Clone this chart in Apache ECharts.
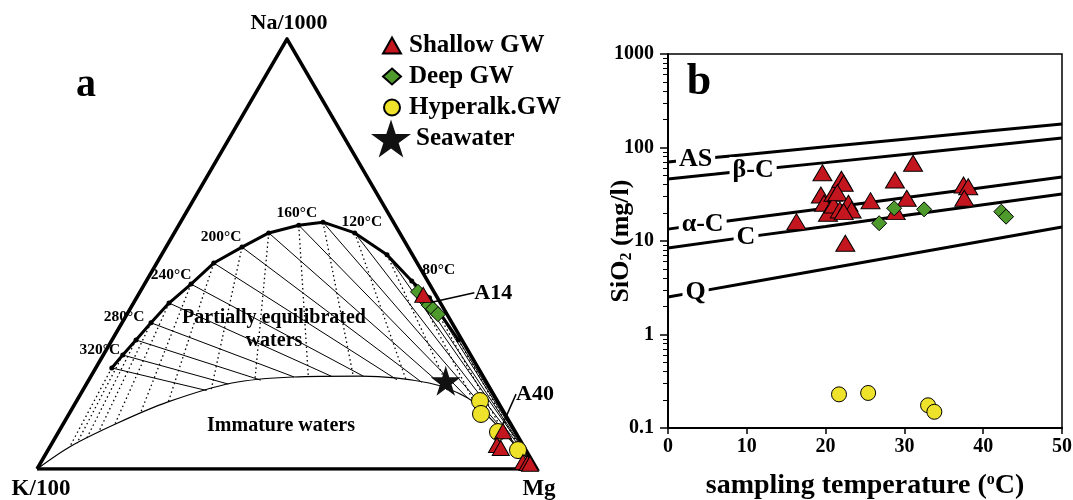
<!DOCTYPE html>
<html>
<head>
<meta charset="utf-8">
<title>Giggenbach diagram and silica solubility</title>
<script src="https://cdn.jsdelivr.net/npm/echarts@6.0.0/dist/echarts.min.js"></script>
<style>
html, body { margin: 0; padding: 0; background: #fff; }
#chart { width: 1073px; height: 500px; }
</style>
</head>
<body>
<div id="chart"></div>
<script>
// ---------- Panel a: Na/1000 – K/100 – Mg ternary, compositions as [Na/1000, K/100, Mg] % ----------
const eqTemps = [340, 320, 300, 280, 260, 240, 220, 200, 180, 160, 140, 120, 100, 80, 60, 40];
const eqComp = [
  [23.5, 73.3, 3.2], [26.5, 69.6, 3.9], [30.0, 65.2, 4.8], [34.0, 60.2, 5.8],
  [38.6, 54.3, 7.1], [43.0, 47.7, 9.3], [47.9, 40.7, 11.4], [51.6, 33.2, 15.2],
  [54.9, 26.2, 18.9], [56.7, 19.3, 24.0], [57.4, 14.1, 28.5], [54.9, 9.0, 36.1],
  [49.8, 5.1, 45.1], [43.7, 3.2, 53.1], [39.8, 1.6, 58.6], [30.0, 0.7, 69.3]
];
const eqLabelTemps = [320, 280, 240, 200, 160, 120, 80];
const immatureComp = [
  [0, 100, 0], [5.3, 90.6, 4.1], [10.7, 78.5, 10.8], [15.6, 66.0, 18.4], [20.0, 51.0, 29.0],
  [21.4, 38.1, 40.5], [21.6, 24.4, 54.0], [20.0, 11.6, 68.4], [16.5, 5.6, 77.9],
  [11.9, 3.5, 84.6], [5.6, 1.6, 92.8], [0, 0, 100]
];
const shallowComp = [[40.5, 2.5, 57.0], [8.8, 2.4, 88.8], [5.6, 5.2, 89.2], [4.9, 4.8, 90.3], [1.6, 2.0, 96.4], [1.4, 1.2, 97.4], [1.2, 0.8, 98.0]];
const shallowNames = ['A14', 'A40', '', '', '', '', ''];
const deepComp = [[41.2, 3.2, 55.6], [39.5, 2.9, 57.6], [38.1, 2.6, 59.3], [37.2, 2.2, 60.6], [36.0, 1.8, 62.2]];
const hyperComp = [[15.8, 3.5, 80.7], [12.8, 4.8, 82.4], [8.6, 3.5, 87.9], [4.4, 1.6, 94.0]];
const seawaterComp = [[20.5, 8.0, 71.5]];

// ---------- Panel b: SiO2 vs sampling temperature ----------
const shallowTemp = [16.3, 19.6, 19.4, 19.8, 20.3, 21.0, 21.0, 21.8, 22.0, 22.3, 21.5, 22.9, 23.3, 22.3, 22.5, 25.7, 28.8, 28.9, 30.3, 31.1, 37.5, 38.1, 37.6];
const shallowSiO2 = [16.1, 53.8, 31.0, 25.3, 19.8, 32.4, 24.3, 21.5, 45.7, 41.4, 32.9, 25.3, 21.5, 20.6, 9.45, 27.0, 44.9, 20.6, 28.6, 67.8, 39.7, 38.0, 28.6];
const deepTemp = [26.8, 28.7, 32.5, 42.3, 42.9];
const deepSiO2 = [15.5, 22.4, 21.8, 20.6, 18.2];
const hyperTemp = [21.7, 25.4, 33.0, 33.8];
const hyperSiO2 = [0.229, 0.237, 0.175, 0.149];

// solubility curves of silica phases
const curveTemps = [0, 10, 20, 30, 40, 50];
const curveNames = ['AS', 'β-C', 'α-C', 'C', 'Q'];
const asSiO2 = [70.0, 84.4, 101.7, 122.7, 147.9, 178.3];
const betaSiO2 = [46.0, 56.4, 68.9, 84.3, 103.2, 126.4];
const alphaSiO2 = [13.4, 17.4, 22.4, 29.0, 37.4, 48.3];
const chalSiO2 = [8.42, 11.0, 14.3, 18.7, 24.4, 31.8];
const quartzSiO2 = [2.52, 3.56, 5.02, 7.08, 10.0, 14.1];
const curveLabelTemp = [3.5, 10.8, 4.4, 9.9, 3.5];
const curveLabelSiO2 = [74.8, 57.3, 15.1, 11.0, 2.84];

const SERIF = '"Liberation Serif", "Times New Roman", serif';
const RED = '#c4161f', GREEN = '#4e9a2c', YELLOW = '#efe22a';
const STAR = 'path://M50,2 L61.2,36.5 L97.6,36.5 L68.2,57.9 L79.4,92.4 L50,71.1 L20.6,92.4 L31.8,57.9 L2.4,36.5 L38.8,36.5 Z';

// ternary composition -> cartesian (K at origin, Mg at (100,0), Na at apex)
function toXY(c) {
  const s = c[0] + c[1] + c[2];
  const n = c[0] / s * 100, m = c[2] / s * 100;
  return [m + n / 2, n * Math.sqrt(3) / 2];
}
const NA_APEX = toXY([100, 0, 0]);
const MG_CORNER = toXY([0, 0, 100]);
const immatureXY = immatureComp.map(toXY);

// first crossing of a ray with a polyline
function hitCurve(p, d, curve) {
  let best = null, bt = Infinity;
  for (let i = 0; i < curve.length - 1; i++) {
    const a = curve[i], b = curve[i + 1];
    const ex = b[0] - a[0], ey = b[1] - a[1];
    const den = d[0] * ey - d[1] * ex;
    if (Math.abs(den) < 1e-12) continue;
    const wx = a[0] - p[0], wy = a[1] - p[1];
    const t = (wx * ey - wy * ex) / den;
    const s = (wx * d[1] - wy * d[0]) / den;
    if (t > 1e-6 && s >= -1e-9 && s <= 1 + 1e-9 && t < bt) { bt = t; best = [p[0] + t * d[0], p[1] + t * d[1]]; }
  }
  return best;
}

// Na/K isotherms run towards the Mg corner, K/Mg isotherms radiate from the Na apex;
// both end on the immature-water boundary
const naKLines = [], kMgLines = [];
eqComp.forEach(c => {
  const e = toXY(c);
  const h1 = hitCurve(e, [MG_CORNER[0] - e[0], MG_CORNER[1] - e[1]], immatureXY);
  if (h1) naKLines.push({ coords: [e, h1] });
  const h2 = hitCurve(e, [e[0] - NA_APEX[0], e[1] - NA_APEX[1]], immatureXY);
  if (h2) kMgLines.push({ coords: [e, h2] });
});

// placement of the temperature labels around their ticks (px offsets)
const eqLabelOffset = {
  320: [-23, -5], 280: [-27, -6], 240: [-20, -9], 200: [-21, -10],
  160: [-2, -12], 120: [7, -11], 80: [27, -11]
};
const eqData = eqComp.map((c, i) => {
  const t = eqTemps[i];
  const item = { value: toXY(c) };
  if (eqLabelTemps.includes(t)) {
    item.label = {
      show: true, formatter: t + '°C', position: 'inside', offset: eqLabelOffset[t],
      color: '#000', fontFamily: SERIF, fontWeight: 'bold', fontSize: 15.5
    };
  }
  return item;
});

const shallowData = shallowComp.map((c, i) => {
  const item = { value: toXY(c), name: shallowNames[i] };
  if (shallowNames[i]) {
    item.label = { show: true, formatter: shallowNames[i], position: 'inside', color: '#000', opacity: 1, fontFamily: SERIF, fontWeight: 'bold', fontSize: 22 };
  }
  return item;
});
const shallowLabelShift = { 0: { dx: 70, dy: -2 }, 1: { dx: 32, dy: -37 } };

function curveSeries(k, vals) {
  const data = curveTemps.map((t, i) => ({ value: [t, vals[i]] }));
  const labelItem = {
    value: [curveLabelTemp[k], curveLabelSiO2[k]],
    symbol: 'circle', symbolSize: 1,
    itemStyle: { color: '#fff', borderWidth: 0 },
    label: {
      show: true, formatter: curveNames[k], position: 'inside',
      color: '#000', fontFamily: SERIF, fontWeight: 'bold', fontSize: 26,
      backgroundColor: '#fff', padding: [0, 3, 0, 3], lineHeight: 26
    }
  };
  const at = data.findIndex(d => d.value[0] > curveLabelTemp[k]);
  data.splice(at, 0, labelItem);
  return {
    type: 'line', name: 'curve-' + k, xAxisIndex: 1, yAxisIndex: 1, symbol: 'none',
    data, lineStyle: { color: '#000', width: 3 }, silent: true, z: 2
  };
}

const minorLogTicks = [];
[0.1, 1, 10, 100].forEach(d => { for (let j = 2; j <= 9; j++) minorLogTicks.push(+(d * j).toPrecision(3)); });

const markerBorder = { borderColor: '#000', borderWidth: 1, opacity: 1 };
const boldText = { color: '#000', fontFamily: SERIF, fontWeight: 'bold' };
const legendText = { ...boldText, fontSize: 25, padding: [0, 0, 0, 3] };

const option = {
  animation: false,
  backgroundColor: '#fff',
  textStyle: { fontFamily: SERIF },
  grid: [
    { left: 37, top: 39, width: 500, height: 430, outerBoundsMode: 'none' },
    { left: 668, top: 54, width: 394, height: 374, show: true, borderColor: '#000', borderWidth: 1.5, outerBoundsMode: 'none' }
  ],
  xAxis: [
    { gridIndex: 0, type: 'value', min: 0, max: 100, show: false },
    {
      gridIndex: 1, type: 'value', min: 0, max: 50, interval: 10,
      axisLine: { lineStyle: { color: '#000', width: 2 } },
      axisTick: { length: 6, lineStyle: { color: '#000', width: 1.5 } },
      axisLabel: { ...boldText, fontSize: 20, margin: 9 },
      splitLine: { show: false },
      name: 'sampling temperature ({sup|o}C)', nameLocation: 'middle', nameGap: 44, nameMoveOverlap: false,
      nameTextStyle: { ...boldText, fontSize: 28, rich: { sup: { ...boldText, fontSize: 16, verticalAlign: 'top', padding: [0, 0, 12, 0] } } }
    }
  ],
  yAxis: [
    { gridIndex: 0, type: 'value', min: 0, max: 50 * Math.sqrt(3), show: false },
    {
      gridIndex: 1, type: 'log', logBase: 10, min: 0.1, max: 1000,
      axisLine: { lineStyle: { color: '#000', width: 2 } },
      axisTick: { length: 8, lineStyle: { color: '#000', width: 1.5 } },
      axisLabel: { ...boldText, fontSize: 20, margin: 14, formatter: v => String(v) },
      splitLine: { show: false },
      name: 'SiO{sub|2} (mg/l)', nameLocation: 'middle', nameRotate: 90, nameGap: 33, nameMoveOverlap: false,
      nameTextStyle: { ...boldText, fontSize: 26, rich: { sub: { ...boldText, fontSize: 16, padding: [12, 0, 0, 0] } } }
    },
    {
      gridIndex: 1, type: 'log', logBase: 10, min: 0.1, max: 1000, position: 'left',
      axisLine: { show: false }, axisLabel: { show: false }, splitLine: { show: false },
      axisTick: { show: true, length: 5, customValues: minorLogTicks, lineStyle: { color: '#000', width: 1 } }
    }
  ],
  legend: [
    {
      data: [{ name: 'Shallow GW', icon: 'triangle' }, { name: 'Deep GW', icon: 'diamond' }, { name: 'Hyperalk.GW', icon: 'circle' }],
      orient: 'vertical', left: 377, top: 25, itemWidth: 18, itemHeight: 16, itemGap: 0,
      selectedMode: false, itemStyle: { opacity: 1 }, textStyle: { ...legendText, lineHeight: 31 }
    },
    {
      data: [{ name: 'Seawater', icon: STAR }],
      orient: 'vertical', left: 366, top: 114, itemWidth: 40, itemHeight: 39,
      selectedMode: false, itemStyle: { opacity: 1 }, textStyle: { ...legendText, padding: [0, 0, 0, 0], lineHeight: 39 }
    }
  ],
  graphic: [
    { type: 'text', x: 86, y: 86, silent: true, style: { text: 'a', fill: '#000', font: 'bold 40px ' + SERIF, align: 'center', verticalAlign: 'middle' } },
    { type: 'text', x: 699, y: 83, silent: true, style: { text: 'b', fill: '#000', font: 'bold 44px ' + SERIF, align: 'center', verticalAlign: 'middle' } },
    { type: 'text', x: 289, y: 23, silent: true, style: { text: 'Na/1000', fill: '#000', font: 'bold 22px ' + SERIF, align: 'center', verticalAlign: 'middle' } },
    { type: 'text', x: 41, y: 489, silent: true, style: { text: 'K/100', fill: '#000', font: 'bold 23px ' + SERIF, align: 'center', verticalAlign: 'middle' } },
    { type: 'text', x: 539, y: 489, silent: true, style: { text: 'Mg', fill: '#000', font: 'bold 23px ' + SERIF, align: 'center', verticalAlign: 'middle' } },
    { type: 'text', x: 274, y: 318, silent: true, style: { text: 'Partially equilibrated', fill: '#000', font: 'bold 20px ' + SERIF, align: 'center', verticalAlign: 'middle' } },
    { type: 'text', x: 274, y: 341, silent: true, style: { text: 'waters', fill: '#000', font: 'bold 20px ' + SERIF, align: 'center', verticalAlign: 'middle' } },
    { type: 'text', x: 281, y: 426, silent: true, style: { text: 'Immature waters', fill: '#000', font: 'bold 20px ' + SERIF, align: 'center', verticalAlign: 'middle' } }
  ],
  series: [
    // ternary frame
    {
      type: 'line', name: 'frame', xAxisIndex: 0, yAxisIndex: 0, symbol: 'none', silent: true, z: 3,
      data: [[0, 100, 0], [0, 0, 100], [100, 0, 0], [0, 100, 0]].map(toXY),
      lineStyle: { color: '#000', width: 3.5, join: 'miter' }
    },
    {
      type: 'lines', name: 'Na/K isotherms', coordinateSystem: 'cartesian2d', xAxisIndex: 0, yAxisIndex: 0,
      silent: true, z: 2, data: naKLines, lineStyle: { color: '#000', width: 1, opacity: 1 }
    },
    {
      type: 'lines', name: 'K/Mg isotherms', coordinateSystem: 'cartesian2d', xAxisIndex: 0, yAxisIndex: 0,
      silent: true, z: 2, data: kMgLines, lineStyle: { color: '#000', width: 1.3, type: [1.5, 3], opacity: 1 }
    },
    {
      type: 'line', name: 'immature boundary', xAxisIndex: 0, yAxisIndex: 0, symbol: 'none', silent: true, z: 2,
      smooth: 0.3, data: immatureXY, lineStyle: { color: '#000', width: 1.2 }
    },
    {
      type: 'line', name: 'full equilibrium', xAxisIndex: 0, yAxisIndex: 0, silent: true, z: 3,
      symbol: 'circle', symbolSize: 5, data: eqData,
      itemStyle: { color: '#000' }, lineStyle: { color: '#000', width: 3 }
    },
    {
      type: 'scatter', name: 'Deep GW', xAxisIndex: 0, yAxisIndex: 0, z: 4, symbol: 'diamond', symbolSize: [15, 15],
      data: deepComp.map(toXY), itemStyle: { color: GREEN, ...markerBorder }
    },
    {
      type: 'scatter', name: 'Hyperalk.GW', xAxisIndex: 0, yAxisIndex: 0, z: 4, symbol: 'circle', symbolSize: 17,
      data: hyperComp.map(toXY), itemStyle: { color: YELLOW, ...markerBorder }
    },
    {
      type: 'scatter', name: 'Seawater', xAxisIndex: 0, yAxisIndex: 0, z: 4, symbol: STAR, symbolSize: 30,
      data: seawaterComp.map(toXY), itemStyle: { color: '#111', opacity: 1 }
    },
    {
      type: 'scatter', name: 'Shallow GW', xAxisIndex: 0, yAxisIndex: 0, z: 5, symbol: 'triangle', symbolSize: [17, 15],
      data: shallowData, itemStyle: { color: RED, ...markerBorder },
      labelLayout: p => shallowLabelShift[p.dataIndex] || {},
      labelLine: { show: true, lineStyle: { color: '#000', width: 1.5, opacity: 1 } }
    },
    // panel b
    curveSeries(0, asSiO2),
    curveSeries(1, betaSiO2),
    curveSeries(2, alphaSiO2),
    curveSeries(3, chalSiO2),
    curveSeries(4, quartzSiO2),
    {
      type: 'scatter', name: 'Shallow GW', xAxisIndex: 1, yAxisIndex: 1, z: 4, symbol: 'triangle', symbolSize: [19, 16],
      data: shallowTemp.map((t, i) => [t, shallowSiO2[i]]), itemStyle: { color: RED, ...markerBorder }
    },
    {
      type: 'scatter', name: 'Deep GW', xAxisIndex: 1, yAxisIndex: 1, z: 5, symbol: 'diamond', symbolSize: [15, 15],
      data: deepTemp.map((t, i) => [t, deepSiO2[i]]), itemStyle: { color: GREEN, ...markerBorder }
    },
    {
      type: 'scatter', name: 'Hyperalk.GW', xAxisIndex: 1, yAxisIndex: 1, z: 5, symbol: 'circle', symbolSize: 15,
      data: hyperTemp.map((t, i) => [t, hyperSiO2[i]]), itemStyle: { color: YELLOW, ...markerBorder }
    }
  ]
};

const chart = echarts.init(document.getElementById('chart'), null, { renderer: 'canvas' });
chart.setOption(option);
</script>
</body>
</html>
